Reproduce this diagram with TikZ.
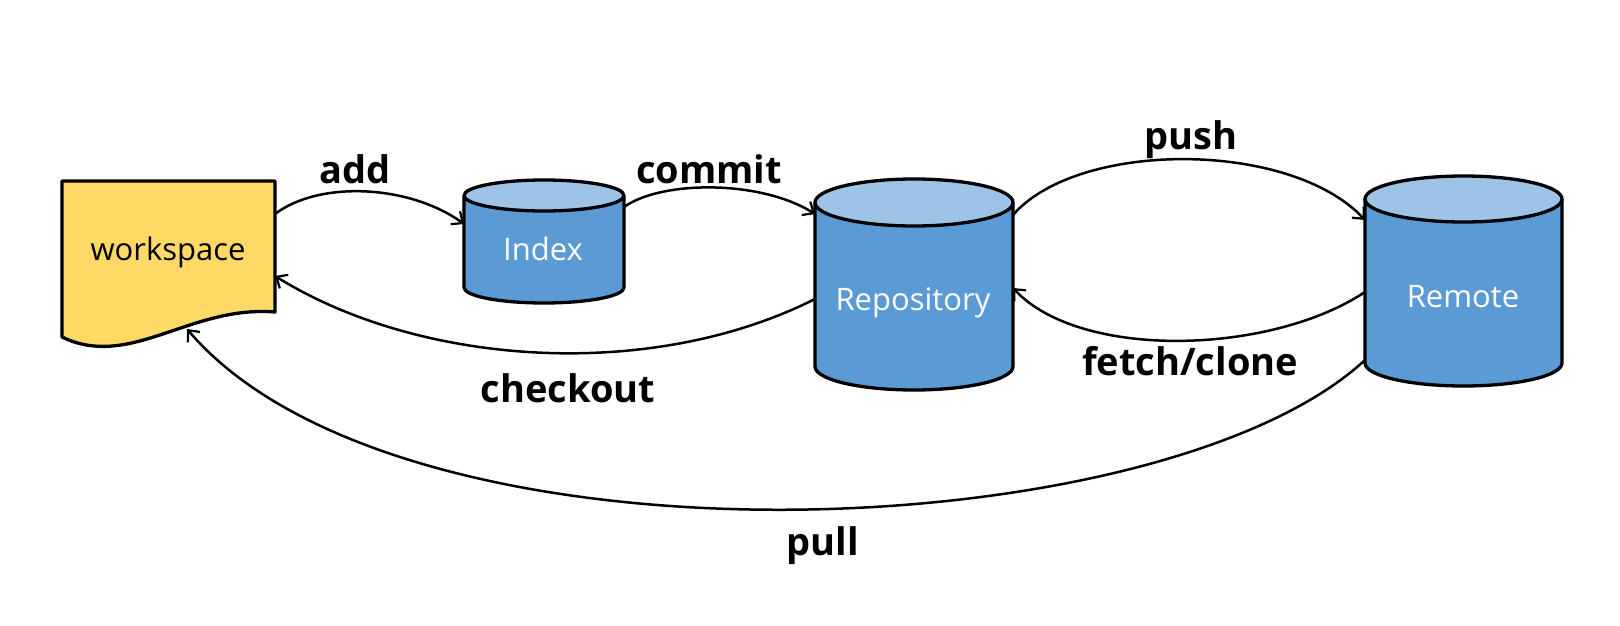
\documentclass[tikz,border=0pt]{standalone}
\usepackage{fontspec}
\setmainfont{Open Sans}
\usetikzlibrary{arrows.meta,calc}
\definecolor{cylbody}{HTML}{5B9BD5}
\definecolor{cyltop}{HTML}{9DC3E6}
\definecolor{docfill}{HTML}{FFD966}
\newcommand{\drawdbcyl}[5]{% cx, ytop, ybot, rx, ry
  \fill[cylbody] (#1-#4,#2) -- (#1-#4,#3) arc[start angle=180,end angle=360,x radius=#4pt,y radius=#5pt] -- (#1+#4,#2) -- cycle;
  \draw[outline] (#1-#4,#2) -- (#1-#4,#3) arc[start angle=180,end angle=360,x radius=#4pt,y radius=#5pt] -- (#1+#4,#2);
  \filldraw[outline,fill=cyltop] (#1,#2) ellipse[x radius=#4pt,y radius=#5pt];
}
\begin{document}
\begin{tikzpicture}[x=1pt,y=-1pt,
  outline/.style={draw=black,line width=3.3pt,line join=round},
  holder/.style={draw=none,inner sep=0pt,outer sep=0pt},
  conn/.style={draw=black,line width=2.5pt,-{Straight Barb[length=9pt,width=16pt,line width=2.2pt]}},
  oplabel/.style={font=\fontsize{38}{40}\selectfont\bfseries,anchor=base,inner sep=0pt},
  boxtext/.style={font=\fontsize{31}{33}\selectfont,anchor=base,inner sep=0pt}
]
\useasboundingbox (0,0) rectangle (1620,626);
\fill[white] (0,0) rectangle (1620,626);

% shapes
\filldraw[outline,fill=docfill] (62,181) -- (275,181) -- (275,312) .. controls (190,305) and (130,370) .. (62,337) -- cycle;
\drawdbcyl{544}{195.5}{287.5}{80}{15.5}
\drawdbcyl{914}{202.5}{366.5}{99}{23.5}
\drawdbcyl{1463.5}{199}{363}{98.5}{23}

% named holders
\node[holder,minimum width=213pt,minimum height=156pt] (ws) at (168.5,259) {};
\node[holder,minimum width=160pt,minimum height=123pt] (idx) at (544,241.5) {};
\node[holder,minimum width=198pt,minimum height=211pt] (repo) at (914,284.5) {};
\node[holder,minimum width=197pt,minimum height=210pt] (rem) at (1463.5,281) {};

% texts in shapes
\node[boxtext,text=black] (wst) at (168,260) {workspace};
\node[boxtext,text=white] (idxt) at (543,260) {Index};
\node[boxtext,text=white] (repot) at (913,310) {Repository};
\node[boxtext,text=white] (remt) at (1463,307) {Remote};

% connectors
\draw[conn] ($(ws.east)+(0,-45)$) .. controls +(45,-34) and +(-54,-39) .. ($(idx.west)+(0,-17.5)$);
\draw[conn] ($(idx.east)+(0,-34.5)$) .. controls +(38,-27) and +(-54,-34) .. ($(repo.west)+(0,-70.5)$);
\draw[conn] ($(repo.east)+(0,-69.5)$) .. controls +(65,-75) and +(-75,-80) .. ($(rem.west)+(0,-61)$);
\draw[conn] ($(repo.west)+(0,14.5)$) .. controls +(-165,83) and +(145,90) .. ($(ws.east)+(0,17)$);
\draw[conn] ($(rem.west)+(0,11)$) .. controls +(-95,63) and +(67,72) .. ($(repo.east)+(0,3.5)$);
\draw[conn] ($(rem.west)+(0,79)$) .. controls +(-205,190) and +(213,250) .. ($(ws.south)+(18.5,-8)$);

% labels
\node[oplabel] (ladd) at (355,183) {add};
\node[oplabel] (lcommit) at (709,183) {commit};
\node[oplabel] (lpush) at (1191,149) {push};
\node[oplabel] (lcheckout) at (568,402) {checkout};
\node[oplabel] (lfetch) at (1190,375) {fetch/clone};
\node[oplabel] (lpull) at (823,555) {pull};
\end{tikzpicture}
\end{document}
